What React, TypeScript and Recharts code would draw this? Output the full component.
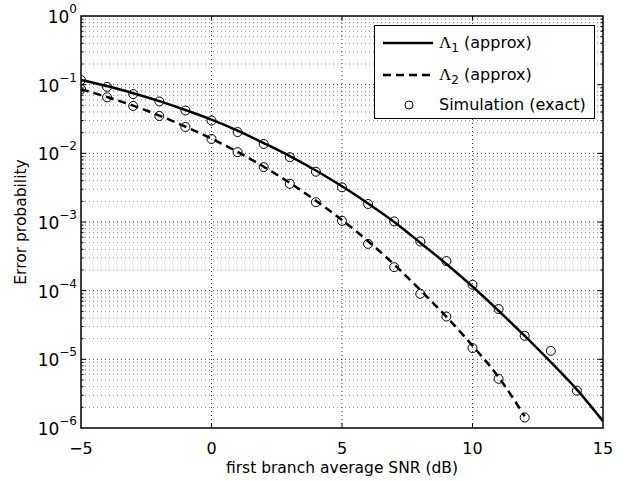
import {
  ComposedChart,
  Line,
  XAxis,
  YAxis,
  ReferenceLine,
  ReferenceArea,
  Label,
} from "recharts";

const snrTicks = [-5, 0, 5, 10, 15];
const decadeTicks = [1e-6, 1e-5, 1e-4, 1e-3, 1e-2, 1e-1, 1];

const lambda1Snr = [-5, -4, -3, -2, -1, 0, 1, 2, 3, 4, 5, 6, 7, 8, 9, 10, 11, 12, 13, 14, 15];
const lambda1Approx = [
  0.1175, 0.0955, 0.075, 0.0575, 0.0427, 0.0309, 0.0214, 0.0141, 0.00912, 0.00562, 0.00331,
  0.00186, 0.001, 5.0e-4, 2.45e-4, 1.15e-4, 5.1e-5, 2.19e-5, 9.1e-6, 3.63e-6, 1.26e-6,
];

const lambda2Snr = [-5, -4, -3, -2, -1, 0, 1, 2, 3, 4, 5, 6, 7, 8, 9, 10, 11, 12];
const lambda2Approx = [
  0.0857, 0.0661, 0.0495, 0.0355, 0.0245, 0.0164, 0.0105, 0.00638, 0.00372, 0.00204,
  0.00107, 5.25e-4, 2.4e-4, 1.02e-4, 4.17e-5, 1.58e-5, 5.5e-6, 1.48e-6,
];

const sim1Snr = [-5, -4, -3, -2, -1, 0, 1, 2, 3, 4, 5, 6, 7, 8, 9, 10, 11, 12, 13, 14];
const sim1Exact = [
  0.117, 0.093, 0.073, 0.057, 0.042, 0.03, 0.0204, 0.0137, 0.0088, 0.0054, 0.0032,
  0.00183, 0.00102, 5.2e-4, 2.7e-4, 1.22e-4, 5.4e-5, 2.2e-5, 1.33e-5, 3.5e-6,
];

const sim2Snr = [-5, -4, -3, -2, -1, 0, 1, 2, 3, 4, 5, 6, 7, 8, 9, 10, 11, 12];
const sim2Exact = [
  0.0857, 0.0655, 0.049, 0.035, 0.0242, 0.0162, 0.0104, 0.0063, 0.0036, 0.00194,
  0.00104, 4.8e-4, 2.2e-4, 9.0e-5, 4.2e-5, 1.46e-5, 5.2e-6, 1.42e-6,
];

const zip = (xs: number[], ys: number[]) => xs.map((snr, i) => ({ snr, p: ys[i] }));

const line1Data = zip(lambda1Snr, lambda1Approx);
const line2Data = zip(lambda2Snr, lambda2Approx);
const sim1Data = zip(sim1Snr, sim1Exact);
const sim2Data = zip(sim2Snr, sim2Exact);

// minor log grid: 2..9 x each decade
const minorValues: number[] = [];
for (let d = -6; d < 0; d++) {
  for (let k = 2; k <= 9; k++) minorValues.push(k * Math.pow(10, d));
}
const innerDecades = decadeTicks.slice(1, -1);
const innerSnr = snrTicks.slice(1, -1);

const FONT = "'DejaVu Sans', 'Liberation Sans', Arial, sans-serif";

const YTick = ({ x, y, payload }: any) => {
  const exp = Math.round(Math.log10(payload.value));
  return (
    <text x={x} y={y + 7} textAnchor="end" fontFamily={FONT} fontSize={17} fill="#000">
      10
      <tspan dy={-10} fontSize={12}>
        {exp === 0 ? "0" : "\u2212" + Math.abs(exp)}
      </tspan>
    </text>
  );
};

const XTick = ({ x, y, payload }: any) => (
  <text x={x} y={y + 18} textAnchor="middle" fontFamily={FONT} fontSize={16} fill="#000">
    {payload.value < 0 ? "\u2212" + Math.abs(payload.value) : payload.value}
  </text>
);

const LegendBox = () => (
  <div
    style={{
      position: "absolute",
      left: 374,
      top: 25,
      width: 221,
      height: 94,
      border: "1.5px solid #000",
      boxSizing: "border-box",
      background: "#fff",
      fontFamily: FONT,
      fontSize: 16,
      color: "#000",
      lineHeight: "18px",
    }}
  >
    <div style={{ position: "absolute", left: 8, top: 8, display: "flex", alignItems: "center" }}>
      <svg width={52} height={12}>
        <line x1={0} y1={6} x2={50} y2={6} stroke="#000" strokeWidth={2.5} />
      </svg>
      <span style={{ marginLeft: 4 }}>
        <span style={{ fontFamily: "'Liberation Serif', serif", fontSize: 17 }}>Λ</span>
        <sub style={{ fontSize: 12, lineHeight: 0 }}>1</sub> (approx)
      </span>
    </div>
    <div style={{ position: "absolute", left: 8, top: 40, display: "flex", alignItems: "center" }}>
      <svg width={52} height={12}>
        <line x1={0} y1={6} x2={50} y2={6} stroke="#000" strokeWidth={2.5} strokeDasharray="8 5" />
      </svg>
      <span style={{ marginLeft: 4 }}>
        <span style={{ fontFamily: "'Liberation Serif', serif", fontSize: 17 }}>Λ</span>
        <sub style={{ fontSize: 12, lineHeight: 0 }}>2</sub> (approx)
      </span>
    </div>
    <div style={{ position: "absolute", left: 8, top: 70, display: "flex", alignItems: "center" }}>
      <svg width={52} height={12}>
        <circle cx={26} cy={6} r={4} fill="none" stroke="#000" strokeWidth={1} />
      </svg>
      <span style={{ marginLeft: 4 }}>Simulation (exact)</span>
    </div>
  </div>
);

export default function App() {
  return (
    <div style={{ position: "absolute", left: 0, top: 0, width: 639, height: 481, background: "#fff" }}>
      <ComposedChart width={639} height={481} margin={{ top: 16, right: 36, bottom: 0, left: 0 }}>
        <XAxis
          dataKey="snr"
          type="number"
          domain={[-5, 15]}
          ticks={snrTicks}
          allowDataOverflow
          height={53}
          tickLine={false}
          axisLine={false}
          tick={<XTick />}
        >
          <Label
            value="first branch average SNR (dB)"
            position="insideBottom"
            offset={8}
            style={{ fontFamily: FONT, fontSize: 15.5, fill: "#000" }}
          />
        </XAxis>
        <YAxis
          dataKey="p"
          type="number"
          scale="log"
          domain={[1e-6, 1]}
          ticks={decadeTicks}
          allowDataOverflow
          width={81}
          tickLine={false}
          axisLine={false}
          tickSize={0}
          tickMargin={4}
          tick={<YTick />}
        >
          <Label
            value="Error probability"
            angle={-90}
            position="insideLeft"
            offset={20}
            style={{ fontFamily: FONT, fontSize: 15.5, fill: "#000", textAnchor: "middle" }}
          />
        </YAxis>

        {minorValues.map((v) => (
          <ReferenceLine key={"m" + v} y={v} stroke="#888" strokeWidth={1} strokeDasharray="1 3" />
        ))}
        {innerDecades.map((v) => (
          <ReferenceLine key={"d" + v} y={v} stroke="#333" strokeWidth={1} strokeDasharray="1 3" />
        ))}
        {innerSnr.map((v) => (
          <ReferenceLine key={"x" + v} x={v} stroke="#333" strokeWidth={1} strokeDasharray="1 3" />
        ))}

        {/* inward ticks on all four sides */}
        {minorValues.map((v) => (
          <ReferenceLine key={"tl" + v} segment={[{ x: -5, y: v }, { x: -4.9, y: v }]} stroke="#000" />
        ))}
        {minorValues.map((v) => (
          <ReferenceLine key={"tr" + v} segment={[{ x: 14.9, y: v }, { x: 15, y: v }]} stroke="#000" />
        ))}
        {innerDecades.map((v) => (
          <ReferenceLine key={"Tl" + v} segment={[{ x: -5, y: v }, { x: -4.8, y: v }]} stroke="#000" />
        ))}
        {innerDecades.map((v) => (
          <ReferenceLine key={"Tr" + v} segment={[{ x: 14.8, y: v }, { x: 15, y: v }]} stroke="#000" />
        ))}
        {innerSnr.map((v) => (
          <ReferenceLine key={"Tb" + v} segment={[{ x: v, y: 1e-6 }, { x: v, y: 1.17e-6 }]} stroke="#000" />
        ))}
        {innerSnr.map((v) => (
          <ReferenceLine key={"Tt" + v} segment={[{ x: v, y: 0.855 }, { x: v, y: 1 }]} stroke="#000" />
        ))}

        <ReferenceArea x1={-5} x2={15} y1={1e-6} y2={1} fill="none" stroke="#000" strokeWidth={1.5} />

        <Line
          data={line1Data}
          dataKey="p"
          type="monotone"
          stroke="#000"
          strokeWidth={2.5}
          dot={false}
          isAnimationActive={false}
        />
        <Line
          data={line2Data}
          dataKey="p"
          type="monotone"
          stroke="#000"
          strokeWidth={2.5}
          strokeDasharray="8 5"
          dot={false}
          isAnimationActive={false}
        />
        <Line
          data={sim1Data}
          dataKey="p"
          stroke="none"
          dot={{ r: 4.5, fill: "none", stroke: "#000", strokeWidth: 1 }}
          isAnimationActive={false}
        />
        <Line
          data={sim2Data}
          dataKey="p"
          stroke="none"
          dot={{ r: 4.5, fill: "none", stroke: "#000", strokeWidth: 1 }}
          isAnimationActive={false}
        />
      </ComposedChart>
      <LegendBox />
    </div>
  );
}
